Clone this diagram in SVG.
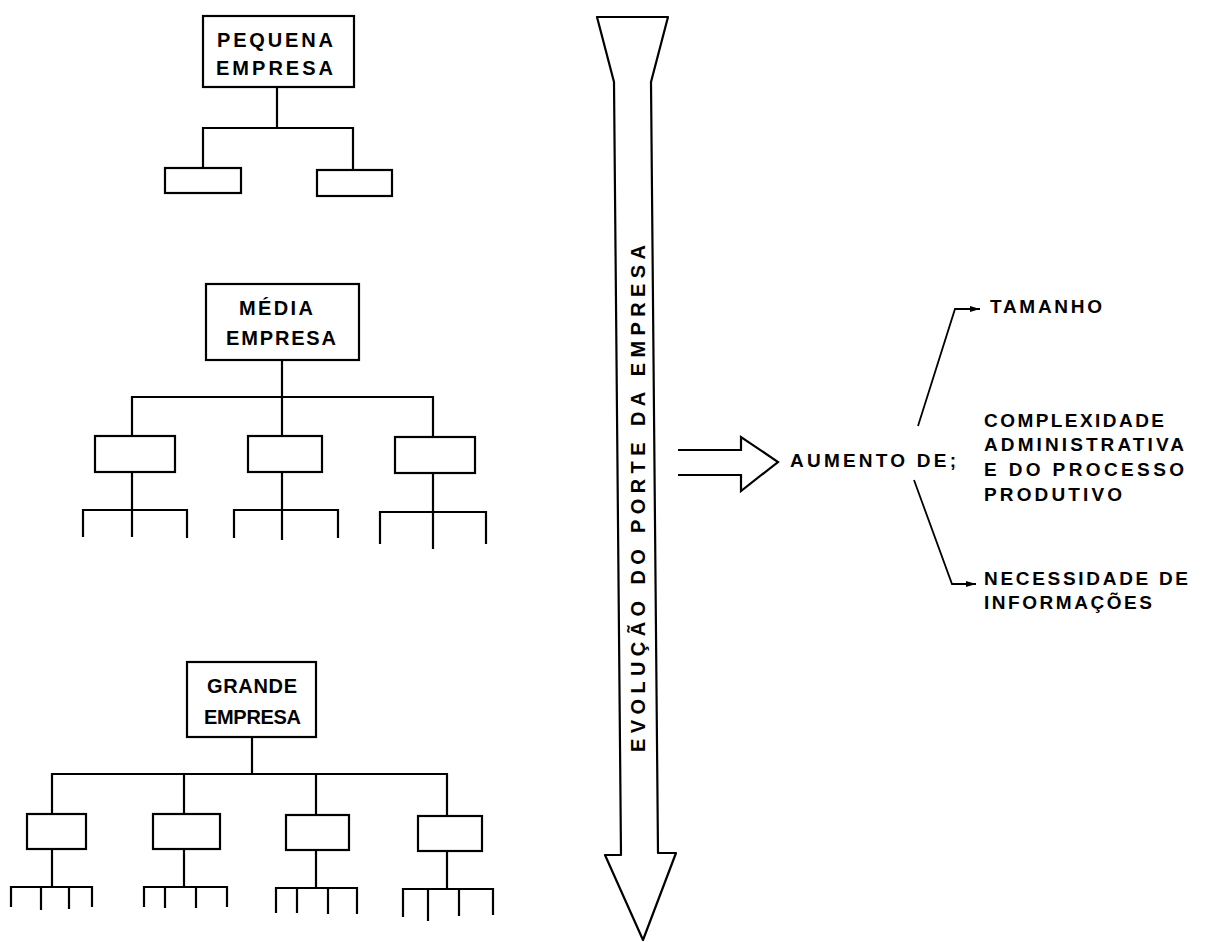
<svg xmlns="http://www.w3.org/2000/svg" width="1217" height="942" viewBox="0 0 1217 942">
  <style>
    .box { fill: #fff; stroke: #000; stroke-width: 2.2; }
    .ln { fill: none; stroke: #000; stroke-width: 2.2; stroke-linecap: square; }
    .thin { fill: none; stroke: #000; stroke-width: 1.8; }
    .lbl { font-family: "Liberation Sans", Arial, sans-serif; font-weight: bold; font-size: 20px; fill: #000; }
    .rt { font-family: "Liberation Sans", Arial, sans-serif; font-weight: bold; font-size: 19px; fill: #000; }
  </style>
  <defs>
    <marker id="ah" viewBox="0 0 10 8" refX="10" refY="4" markerWidth="12" markerHeight="8" markerUnits="userSpaceOnUse" orient="auto">
      <path d="M0,1 L10,4 L0,7 Z" fill="#000"/>
    </marker>
  </defs>
  <rect width="1217" height="942" fill="#fff"/>

  <!-- org-chart connectors -->
  <g id="connectors">
    <!-- small company -->
    <path class="ln" d="M277,87 V128 M203,128 H353 M203,128 V168 M353,128 V170"/>
    <!-- medium company -->
    <path class="ln" d="M282,360 V397 M132,397 H433 M132,397 V436 M282,397 V436 M433,397 V437"/>
    <path class="ln" d="M132,472 V510 M83,510 H187 M83,510 V536 M132,510 V536 M187,510 V537"/>
    <path class="ln" d="M282,472 V510 M234,510 H338 M234,510 V537 M282,510 V539 M338,510 V537"/>
    <path class="ln" d="M433,473 V512 M380,512 H486 M380,512 V543 M433,512 V548 M486,512 V543"/>
    <!-- large company -->
    <path class="ln" d="M252,737 V774 M52,774 H447 M52,774 V814 M184,774 V814 M316,774 V815 M447,774 V816"/>
    <path class="ln" d="M52,849 V887 M11,887 H92 M11,887 V906 M41,887 V909 M69,887 V908 M92,887 V906"/>
    <path class="ln" d="M184,849 V887 M144,887 H227 M144,887 V906 M165,887 V907 M196,887 V907 M227,887 V906"/>
    <path class="ln" d="M316,850 V888 M276,888 H357 M276,888 V912 M297,888 V912 M328,888 V913 M357,888 V913"/>
    <path class="ln" d="M447,851 V889 M403,889 H493 M403,889 V916 M428,889 V920 M459,889 V915 M493,889 V914"/>
    <!-- branches to the consequences -->
    <path class="thin" d="M918,426 L955,309 H980" marker-end="url(#ah)"/>
    <path class="thin" d="M914,480 L952,584 H976" marker-end="url(#ah)"/>
  </g>

  <!-- small company -->
  <g id="pequena">
    <rect class="box" x="203" y="16" width="151" height="71"/>
    <text class="lbl" x="217" y="47" textLength="116" lengthAdjust="spacing">PEQUENA</text>
    <text class="lbl" x="216" y="75" textLength="117" lengthAdjust="spacing">EMPRESA</text>
  </g>
  <g id="pequena-sub">
    <rect class="box" x="165" y="168" width="76" height="25"/>
    <rect class="box" x="317" y="170" width="75" height="26"/>
  </g>

  <!-- medium company -->
  <g id="media">
    <rect class="box" x="206" y="284" width="153" height="76"/>
    <text class="lbl" x="239" y="315" textLength="74" lengthAdjust="spacing">MÉDIA</text>
    <text class="lbl" x="226" y="345" textLength="110" lengthAdjust="spacing">EMPRESA</text>
  </g>
  <g id="media-sub">
    <rect class="box" x="95" y="436" width="80" height="36"/>
    <rect class="box" x="248" y="436" width="74" height="36"/>
    <rect class="box" x="395" y="437" width="80" height="36"/>
  </g>

  <!-- large company -->
  <g id="grande">
    <rect class="box" x="187" y="662" width="129" height="75"/>
    <text class="lbl" x="207" y="693" textLength="90" lengthAdjust="spacing">GRANDE</text>
    <text class="lbl" x="204" y="724" textLength="97" lengthAdjust="spacing">EMPRESA</text>
  </g>
  <g id="grande-sub">
    <rect class="box" x="27" y="814" width="59" height="35"/>
    <rect class="box" x="153" y="814" width="67" height="35"/>
    <rect class="box" x="286" y="815" width="63" height="35"/>
    <rect class="box" x="418" y="816" width="64" height="35"/>
  </g>

  <!-- growth axis -->
  <g id="evolucao">
    <path class="box" d="M597,17 H668 L651,82 L658,853 H676 L643,940 L605,855 H621 L614,82 Z" stroke-linejoin="round"/>
    <text class="lbl" transform="translate(645,752) rotate(-90)" x="0" y="0" font-size="19" textLength="507" lengthAdjust="spacing">EVOLUÇÃO DO PORTE DA EMPRESA</text>
  </g>

  <!-- hollow arrow to the effects -->
  <g id="aumento">
    <path class="box" d="M678,450 H741 V437 L778,462 L741,491 V475 H678" stroke-width="2"/>
    <text class="rt" x="790" y="467" textLength="166" lengthAdjust="spacing">AUMENTO DE;</text>
  </g>

  <g id="tamanho">
    <text class="rt" x="990" y="313" textLength="112" lengthAdjust="spacing">TAMANHO</text>
  </g>
  <g id="complexidade">
    <text class="rt" x="984" y="427" textLength="180" lengthAdjust="spacing">COMPLEXIDADE</text>
    <text class="rt" x="984" y="451" textLength="200" lengthAdjust="spacing">ADMINISTRATIVA</text>
    <text class="rt" x="984" y="476" textLength="200" lengthAdjust="spacing">E DO PROCESSO</text>
    <text class="rt" x="984" y="501" textLength="138" lengthAdjust="spacing">PRODUTIVO</text>
  </g>
  <g id="necessidade">
    <text class="rt" x="984" y="585" textLength="204" lengthAdjust="spacing">NECESSIDADE DE</text>
    <text class="rt" x="984" y="609" textLength="168" lengthAdjust="spacing">INFORMAÇÕES</text>
  </g>
</svg>
